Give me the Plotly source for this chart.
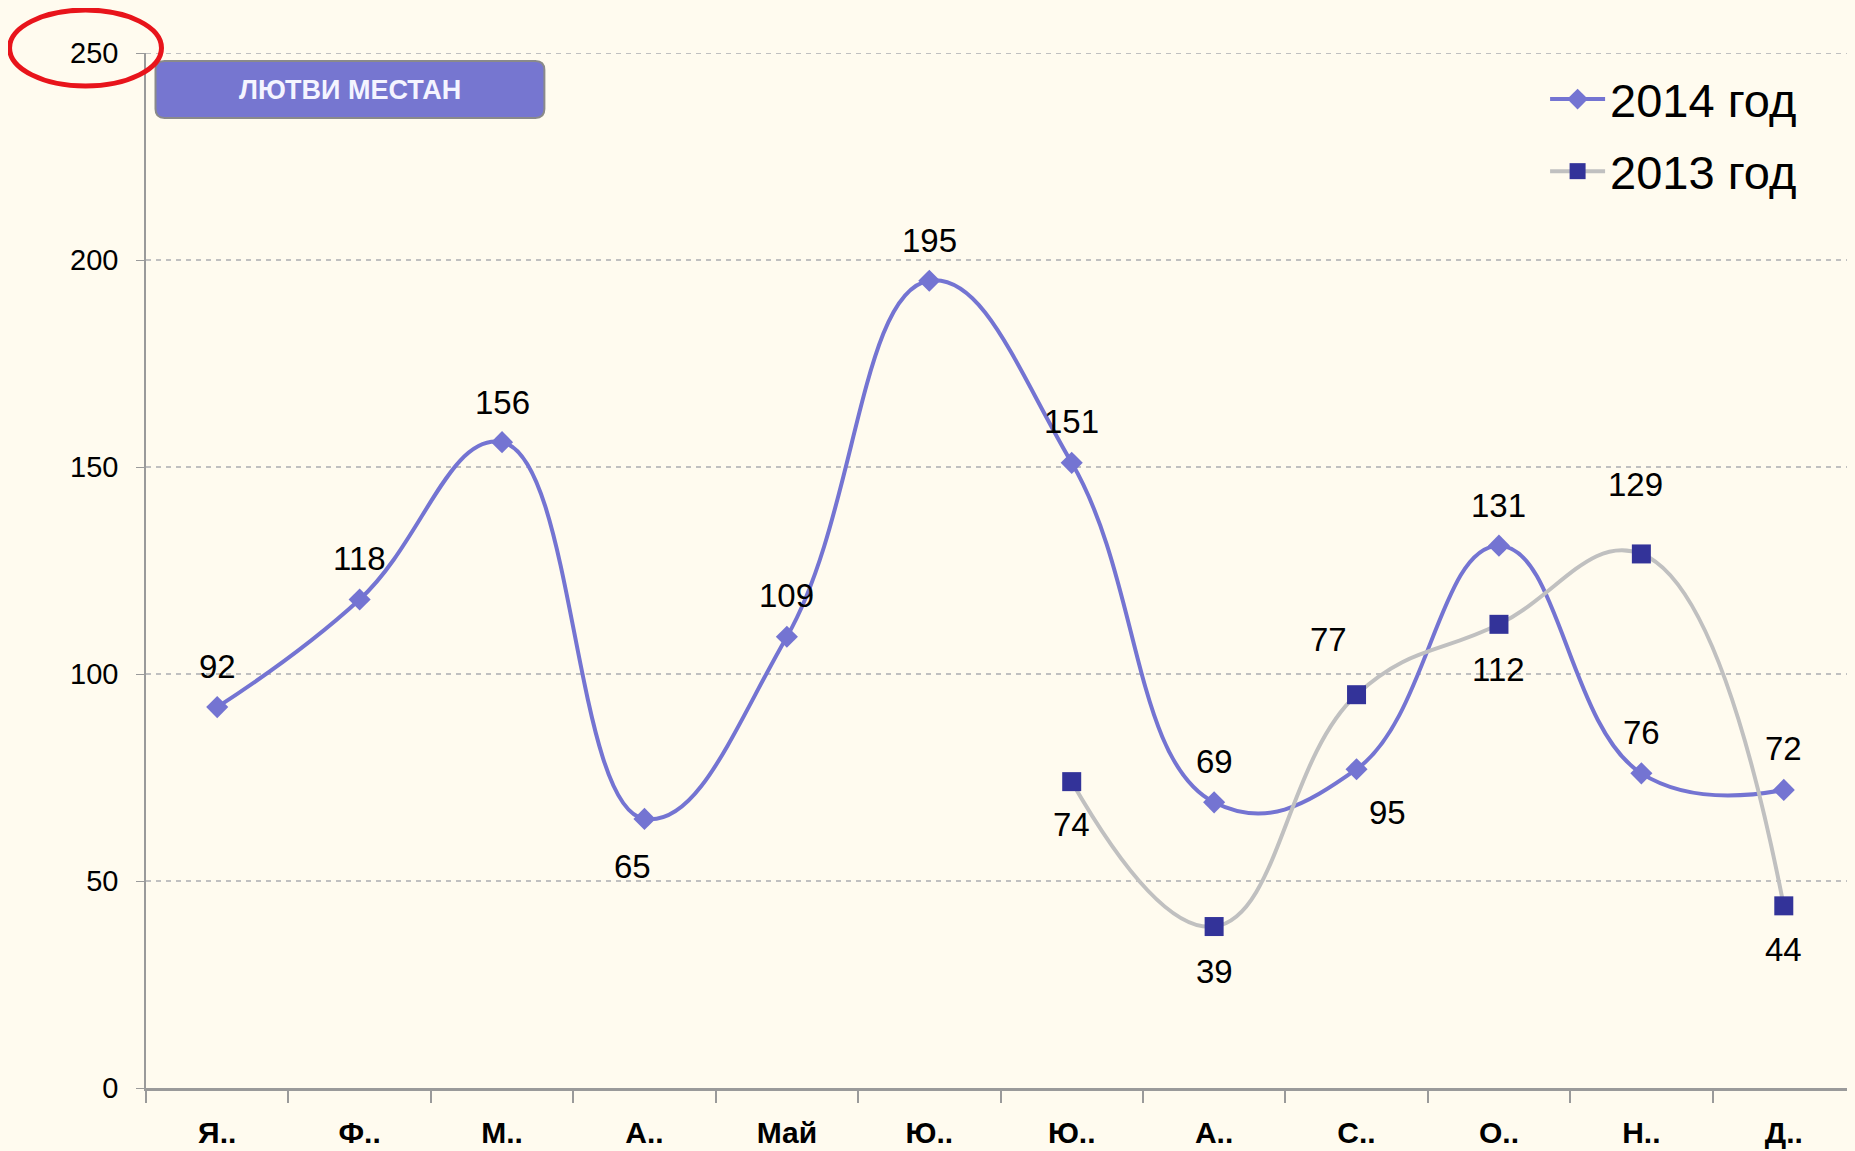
import plotly.graph_objects as go

months = ["Я..", "Ф..", "М..", "А..", "Май", "Ю..", "Ю..", "А..", "С..", "О..", "Н..", "Д.."]
y2014 = [92, 118, 156, 65, 109, 195, 151, 69, 77, 131, 76, 72]
y2013 = [None, None, None, None, None, None, 74, 39, 95, 112, 129, 44]
yticks = [0, 50, 100, 150, 200, 250]

# label offsets in pixels (dx, dy) — layout only
off2014 = [(0, 41), (0, 41), (0, 40), (-12, -48), (0, 41), (0, 40), (0, 41), (0, 41), (-28, 130), (0, 40), (0, 41), (0, 41)]
off2013 = [None, None, None, None, None, None, (0, -43), (0, -45), (31, -118), (0, -45), (-6, 69), (0, -44)]

BG = "#fffbef"
BM = 8  # browser body margin
W, H = 1855 - BM, 1151 - BM
# plot area in window pixels
L, R, T, B = 145.5, 1855, 53, 1088

def px(x):
    return (x - L) / (R - L)

def py(y):
    return (B - y) / (B - T)

xs = list(range(len(months)))
LBL = dict(size=33, color="black", family="Liberation Sans, Arial")

fig = go.Figure()
fig.add_trace(go.Scatter(
    x=xs, y=y2014, name="2014 год", mode="lines+markers", legendgroup="a",
    line=dict(color="#7474d2", width=4, shape="spline", smoothing=1.25),
    marker=dict(symbol="diamond", size=17, color="#7474d2"),
))
fig.add_trace(go.Scatter(
    x=xs, y=y2013, name="2013 год", mode="lines+markers", legendgroup="b",
    line=dict(color="#c0c0c0", width=4, shape="spline", smoothing=1.25),
    marker=dict(symbol="square", size=19, color="#333399"),
))

ann = []
for x, v, o in zip(xs, y2014, off2014):
    ann.append(dict(x=x, y=v, text=str(v), showarrow=False, xshift=o[0], yshift=o[1], font=LBL))
for x, v, o in zip(xs, y2013, off2013):
    if v is None:
        continue
    ann.append(dict(x=x, y=v, text=str(v), showarrow=False, xshift=o[0], yshift=o[1], font=LBL))

# title box text
ann.append(dict(xref="paper", yref="paper", x=px(349.5), y=py(90), xanchor="center", yanchor="middle",
                text="<b>ЛЮТВИ МЕСТАН</b>", showarrow=False,
                font=dict(size=27, color="#f4f4ff", family="Liberation Sans, Arial")))

def rrect(x0, y0, x1, y1, r):
    p = lambda a, b: f"{px(a):.5f},{py(b):.5f}"
    return (f"M {p(x0+r, y0)} L {p(x1-r, y0)} Q {p(x1, y0)} {p(x1, y0+r)} "
            f"L {p(x1, y1-r)} Q {p(x1, y1)} {p(x1-r, y1)} L {p(x0+r, y1)} "
            f"Q {p(x0, y1)} {p(x0, y1-r)} L {p(x0, y0+r)} Q {p(x0, y0)} {p(x0+r, y0)} Z")

shapes = [
    dict(type="path", xref="paper", yref="paper", path=rrect(155, 61, 544, 118, 9),
         fillcolor="#7676d0", line=dict(color="#8a8a8a", width=2), layer="above"),
    dict(type="circle", xref="paper", yref="paper", x0=px(9), x1=px(161), y0=py(86), y1=py(10),
         line=dict(color="#e8141b", width=5)),
    dict(type="line", xref="paper", yref="y", x0=0, x1=1, y0=250, y1=250,
         line=dict(color="#c0c0c0", width=2, dash="5px,5px"), layer="below"),
]

fig.update_layout(
    width=W, height=H,
    margin=dict(l=L - BM, r=0, t=T - BM, b=H - (B - BM)),
    paper_bgcolor=BG, plot_bgcolor=BG,
    font=dict(family="Liberation Sans, Arial", color="black"),
    showlegend=True,
    legend=dict(x=px(1545), y=py(62), xanchor="left", yanchor="top",
                font=dict(size=47, color="black"), bgcolor="rgba(0,0,0,0)",
                itemwidth=55, tracegroupgap=8),
    annotations=ann, shapes=shapes,
    xaxis=dict(range=[-0.5, 11.5], tickvals=xs, ticktext=months, ticks="",
               showgrid=False, zeroline=False, showline=True, linecolor="#9a9a9a", linewidth=2.5,
               tickfont=dict(size=30, family="Liberation Sans Narrow, Arial Narrow, Liberation Sans", color="black",
                             weight="bold"),
               ticklabelstandoff=16,
               minor=dict(tick0=-0.5, dtick=1, ticks="outside", ticklen=12, tickcolor="#9a9a9a", tickwidth=1.5, showgrid=False)),
    yaxis=dict(range=[0, 250], tickvals=yticks, ticks="outside", ticklen=8, tickcolor="#9a9a9a",
               showline=True, linecolor="#9a9a9a", linewidth=1.5, zeroline=False,
               showgrid=True, gridcolor="#c0c0c0", griddash="5px,5px", gridwidth=2,
               tickfont=dict(size=29, color="black"), ticklabelstandoff=12),
)

fig.write_html("out.html",
               post_script=f"document.body.style.background='{BG}';document.body.style.overflow='hidden';")
